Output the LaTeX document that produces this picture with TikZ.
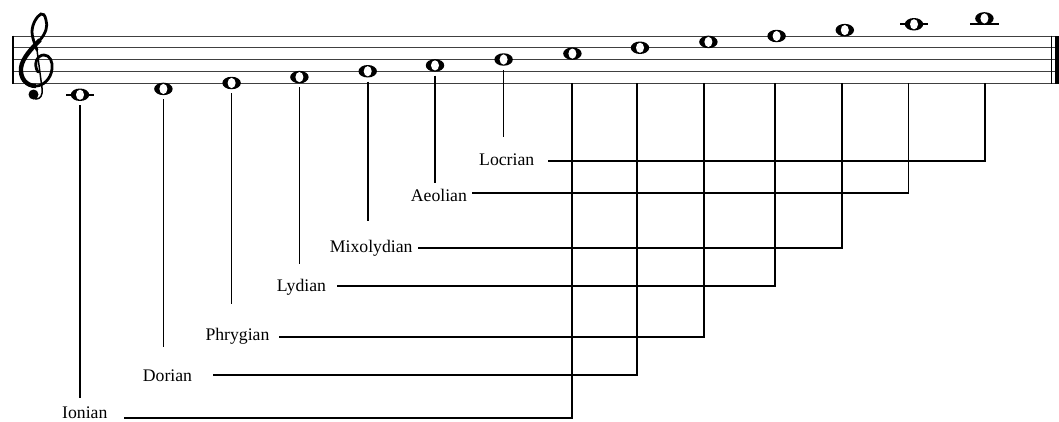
\documentclass[tikz,border=0pt]{standalone}
\usepackage{fontspec}
\setmainfont{Liberation Serif}
\usetikzlibrary{shapes.geometric}
\begin{document}
\begin{tikzpicture}[x=1pt,y=-1pt,
  staffline/.style={line width=1pt, black!75},
  conn/.style={line width=1.7pt, black},
  ledger/.style={line width=1.6pt, black},
  wnote/.style={ellipse, fill=black, minimum width=18.5pt, minimum height=12.5pt,
    inner sep=0pt, outer sep=0pt,
    path picture={\fill[white, rotate around={30:(path picture bounding box.center)}]
      (path picture bounding box.center) ellipse (4pt and 5.1pt);}},
  lab/.style={font=\fontsize{17.7}{20}\selectfont, inner sep=0pt, anchor=base west}]
\useasboundingbox (0,0) rectangle (1059,421);

% staff
\foreach \yy in {36,47.75,59.5,71.25,83}
  \draw[staffline] (13,\yy) -- (1059,\yy);
\draw[line width=1.2pt] (13,35.5) -- (13,83.5);
\draw[line width=1.2pt] (1051.7,35.5) -- (1051.7,83.5);
\fill (1055,35.5) rectangle (1059,83.5);

% treble clef
\draw[line width=2.8pt, line cap=round]
  (38,72) .. controls (33,64) and (37,55) .. (44,55)
  .. controls (50,55) and (53,62) .. (52,69)
  .. controls (51,79) and (43,86) .. (36,86)
  .. controls (26,86) and (20,78) .. (21,68)
  .. controls (22,58) and (33,47) .. (40,40)
  .. controls (46,33) and (48,26) .. (46,20)
  .. controls (45,15) and (43,13) .. (41,14)
  .. controls (37,16) and (32,24) .. (32,32)
  .. controls (32,38) and (35,44) .. (37,50);
\draw[line width=4.4pt]
  (36,86) .. controls (26,86) and (20,78) .. (21,68)
  .. controls (22,58) and (33,47) .. (40,40);
\draw[line width=1.5pt] (37,50) -- (42,88)
  .. controls (43,96) and (40,99) .. (36,99)
  .. controls (33,99) and (31,97) .. (31,95);
\fill (33.5,94.5) circle (5);

% ledger lines
\draw[ledger] (66,94.75) -- (94,94.75);
\draw[ledger] (900,24.25) -- (928,24.25);
\draw[ledger] (970,24.25) -- (999,24.25);

% notes
\node[wnote] (n1) at (80,94.75) {};
\node[wnote] (n2) at (163.4,88.9) {};
\node[wnote] (n3) at (231.6,83) {};
\node[wnote] (n4) at (299.4,77.1) {};
\node[wnote] (n5) at (367.7,71.25) {};
\node[wnote] (n6) at (435,65.4) {};
\node[wnote] (n7) at (503.6,59.5) {};
\node[wnote] (n8) at (572.4,53.6) {};
\node[wnote] (n9) at (640,47.75) {};
\node[wnote] (n10) at (708.4,41.9) {};
\node[wnote] (n11) at (776.6,36) {};
\node[wnote] (n12) at (844.8,30.1) {};
\node[wnote] (n13) at (914,24.25) {};
\node[wnote] (n14) at (984.4,18.4) {};

% labels
\node[lab] (ionian) at (62,418.8) {Ionian};
\node[lab] (dorian) at (142.7,381) {Dorian};
\node[lab] (phrygian) at (205.3,340.5) {Phrygian};
\node[lab] (lydian) at (276.7,291.7) {Lydian};
\node[lab] (mixo) at (329.7,252) {Mixolydian};
\node[lab] (aeolian) at (410.7,201.7) {Aeolian};
\node[lab] (locrian) at (479,165) {Locrian};

% left connector ends
\coordinate (a1) at (80,397.7);
\coordinate (a2) at (163.4,346.7);
\coordinate (a3) at (231.6,304);
\coordinate (a4) at (299.4,264.3);
\coordinate (a5) at (367.7,220.7);
\coordinate (a6) at (435,182.7);
\coordinate (a7) at (503.6,136.7);
\foreach \i in {1,...,7}
  \draw[conn] ([yshift=-4pt]n\i.south) -- (a\i);

% right connectors: staff bottom -> label
\coordinate (s1) at (572.3,83);   \coordinate (h1) at (124,418.3);
\coordinate (s2) at (637.3,83);   \coordinate (h2) at (212.7,375);
\coordinate (s3) at (703.7,83);   \coordinate (h3) at (279.3,336.7);
\coordinate (s4) at (775,83);     \coordinate (h4) at (337.3,285.8);
\coordinate (s5) at (842.3,83);   \coordinate (h5) at (417.7,248);
\coordinate (s6) at (908.5,83);   \coordinate (h6) at (471.7,193.3);
\coordinate (s7) at (985,83);     \coordinate (h7) at (547.5,161);
\foreach \i in {1,...,7}
  \draw[conn] (s\i) |- (h\i);
\end{tikzpicture}
\end{document}
